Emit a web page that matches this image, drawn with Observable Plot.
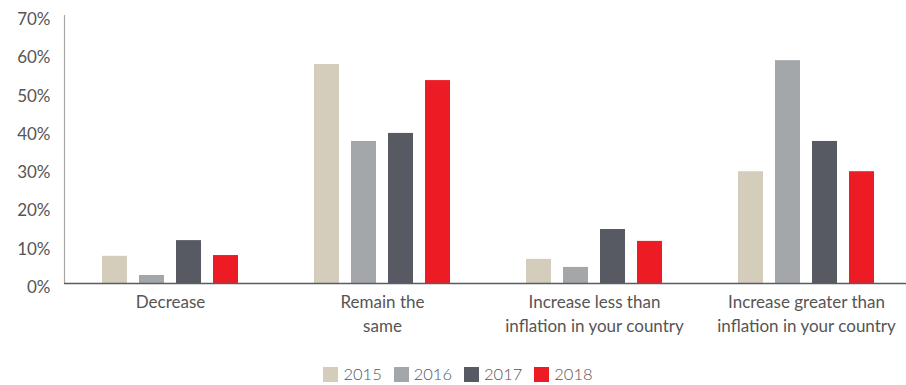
<!DOCTYPE html>
<html>
<head>
<meta charset="utf-8">
<script src="https://cdn.jsdelivr.net/npm/d3@7"></script>
<script src="https://cdn.jsdelivr.net/npm/@observablehq/plot@0.6"></script>
<style>
  html, body { margin: 0; padding: 0; background: #fff; overflow: hidden; width: 906px; }
  #chart svg { overflow: hidden; display: block; }
  .legend { display: flex; justify-content: center; align-items: center; margin-top: 19px; padding-left: 10px;
    font-family: Lato, "Open Sans", sans-serif; font-weight: 300; font-size: 16.5px; color: #555; }
  .legend .item { display: flex; align-items: center; margin: 0 6px; }
  .legend .sw { width: 15px; height: 15px; margin-right: 5px; }
</style>
</head>
<body>
<div id="chart"></div>
<script>
const categories = ["Decrease", "Remain the\nsame", "Increase less than\ninflation in your country", "Increase greater than\ninflation in your country"];
const years = ["2015", "2016", "2017", "2018"];
const colors = ["#d4cdbc", "#a4a7aa", "#575a62", "#ed1c24"];
const v2015 = [7.1, 57.2, 6.3, 29.2];
const v2016 = [2.1, 37.1, 4.2, 58.2];
const v2017 = [11.2, 39.2, 14.1, 37.1];
const v2018 = [7.3, 53.0, 11.0, 29.2];
const yTicks = [0, 10, 20, 30, 40, 50, 60, 70];

const series = [v2015, v2016, v2017, v2018];
const data = [];
categories.forEach((c, i) => years.forEach((y, j) => data.push({category: c, year: y, value: series[j][i]})));

const font = "Lato, 'Open Sans', sans-serif";
const plot = Plot.plot({
  width: 906,
  height: 345,
  marginLeft: 63,
  marginRight: -6,
  marginTop: 15,
  marginBottom: 62,
  style: {fontFamily: font, fontSize: "15px", color: "#555", background: "#fff"},
  fx: {domain: categories, paddingInner: 0, paddingOuter: 0, label: null, axis: null},
  x: {domain: years, paddingInner: 0.32, paddingOuter: 1.0, axis: null, label: null},
  y: {domain: [0, 70], label: null},
  color: {domain: years, range: colors},
  marks: [
    Plot.barY(data, {fx: "category", x: "year", y: "value", fill: "year"}),
    Plot.frame({anchor: "left", facetAnchor: "left", stroke: "#a7a8ad", strokeWidth: 1.2}),
    Plot.ruleY([0], {stroke: "#5a5c64", strokeWidth: 1.5}),
    Plot.axisY({ticks: yTicks, tickSize: 0, tickPadding: 14, dy: 4, tickFormat: d => d + "%", fontSize: 17, fill: "#555", label: null}),
    Plot.axisFx({anchor: "bottom", tickSize: 0, tickPadding: 8, lineHeight: 1.4, fontSize: 17, fill: "#555", label: null})
  ]
});
document.getElementById("chart").appendChild(plot);

const legend = document.createElement("div");
legend.className = "legend";
years.forEach((y, i) => {
  const item = document.createElement("div");
  item.className = "item";
  const sw = document.createElement("span");
  sw.className = "sw";
  sw.style.background = colors[i];
  const t = document.createElement("span");
  t.textContent = y;
  item.appendChild(sw); item.appendChild(t);
  legend.appendChild(item);
});
document.body.appendChild(legend);
</script>
</body>
</html>
